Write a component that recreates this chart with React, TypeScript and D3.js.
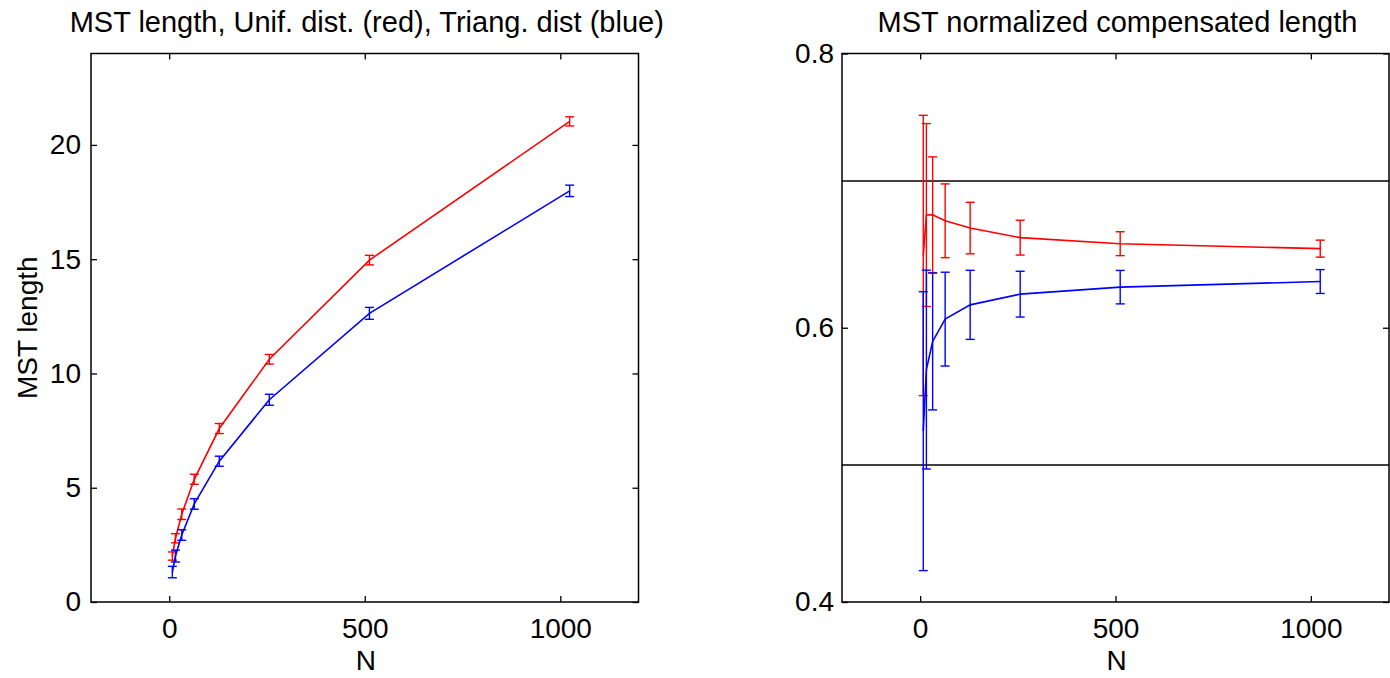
import { useEffect, useRef } from 'react';
import * as d3 from 'd3';

// sample sizes
const N = [8, 16, 32, 64, 128, 256, 512, 1024];

// left panel: MST length
const unifLength = [2.01, 2.79, 3.84, 5.37, 7.59, 10.62, 14.96, 21.03];
const unifLengthErr = [0.18, 0.2, 0.23, 0.22, 0.22, 0.21, 0.21, 0.2];
const triLength = [1.31, 2.01, 2.93, 4.29, 6.16, 8.85, 12.63, 17.99];
const triLengthErr = [0.25, 0.26, 0.23, 0.23, 0.22, 0.24, 0.26, 0.25];

// right panel: normalized compensated length
const unifNorm = [0.6527, 0.6822, 0.6824, 0.678, 0.6727, 0.6657, 0.6613, 0.6577];
const unifNormErr = [0.1022, 0.0667, 0.0422, 0.0269, 0.0188, 0.0127, 0.0087, 0.0062];
const triNorm = [0.5246, 0.5695, 0.59, 0.6063, 0.6167, 0.6245, 0.6296, 0.6337];
const triNormErr = [0.1017, 0.0725, 0.0499, 0.0342, 0.0252, 0.0167, 0.0122, 0.0087];
const refLevels = [0.7071, 0.5];

const xTicks = [0, 500, 1000];
const leftYTicks = [0, 5, 10, 15, 20];
const rightYTicks = [0.4, 0.6, 0.8];

const FONT = '"Liberation Sans", Arial, Helvetica, sans-serif';
const FS = 28;

const App = () => {
  const svgRef = useRef(null);

  useEffect(() => {
    const svg = d3.select(svgRef.current);
    svg.selectAll('*').remove();

    const top = 53.5;
    const bottom = 602;

    const drawPanel = (opts) => {
      const { left, right, yDomain, yTicks, yFmt, yPad, series, title, ylabel, hlines } = opts;
      const x = d3.scaleLinear().domain([-200, 1200]).range([left, right]);
      const y = d3.scaleLinear().domain(yDomain).range([bottom, top]);
      const g = svg.append('g');

      (hlines || []).forEach((v) => {
        g.append('line')
          .attr('x1', left)
          .attr('x2', right)
          .attr('y1', y(v))
          .attr('y2', y(v))
          .attr('stroke', '#000')
          .attr('stroke-width', 1.5);
      });

      const styleAxis = (a, labels) => {
        a.select('.domain').remove();
        a.selectAll('line').attr('stroke', '#000').attr('stroke-width', 1.3);
        a.selectAll('text')
          .attr('font-family', FONT)
          .attr('font-size', FS)
          .attr('fill', '#000');
        if (!labels) a.selectAll('text').remove();
      };

      g.append('g')
        .attr('transform', `translate(0,${bottom})`)
        .call(d3.axisBottom(x).tickValues(xTicks).tickFormat(d3.format('d')).tickSize(-6).tickPadding(16))
        .call((a) => styleAxis(a, true));
      g.append('g')
        .attr('transform', `translate(0,${top})`)
        .call(d3.axisTop(x).tickValues(xTicks).tickSize(-6))
        .call((a) => styleAxis(a, false));
      g.append('g')
        .attr('transform', `translate(${left},0)`)
        .call(d3.axisLeft(y).tickValues(yTicks).tickFormat(yFmt).tickSize(-6).tickPadding(yPad))
        .call((a) => styleAxis(a, true));
      g.append('g')
        .attr('transform', `translate(${right},0)`)
        .call(d3.axisRight(y).tickValues(yTicks).tickSize(-6))
        .call((a) => styleAxis(a, false));

      // box
      g.append('rect')
        .attr('x', left)
        .attr('y', top)
        .attr('width', right - left)
        .attr('height', bottom - top)
        .attr('fill', 'none')
        .attr('stroke', '#000')
        .attr('stroke-width', 1.5);

      const line = d3
        .line()
        .x((d) => x(d[0]))
        .y((d) => y(d[1]));

      series.forEach(({ values, errs, color }) => {
        const pts = N.map((n, i) => [n, values[i], errs[i]]);
        g.append('path')
          .datum(pts)
          .attr('d', line)
          .attr('fill', 'none')
          .attr('stroke', color)
          .attr('stroke-width', 1.6);

        const cap = 4.5;
        const eb = g.append('g').attr('stroke', color).attr('stroke-width', 1.4);
        pts.forEach(([n, v, e]) => {
          const cx = x(n);
          eb.append('line').attr('x1', cx).attr('x2', cx).attr('y1', y(v - e)).attr('y2', y(v + e));
          eb.append('line').attr('x1', cx - cap).attr('x2', cx + cap).attr('y1', y(v - e)).attr('y2', y(v - e));
          eb.append('line').attr('x1', cx - cap).attr('x2', cx + cap).attr('y1', y(v + e)).attr('y2', y(v + e));
        });
      });

      g.append('text')
        .attr('x', (left + right) / 2 + 2)
        .attr('y', 32)
        .attr('text-anchor', 'middle')
        .attr('font-family', FONT)
        .attr('font-size', 29)
        .text(title);

      g.append('text')
        .attr('x', (left + right) / 2 + 1)
        .attr('y', 670)
        .attr('text-anchor', 'middle')
        .attr('font-family', FONT)
        .attr('font-size', FS)
        .text('N');

      if (ylabel) {
        g.append('text')
          .attr('transform', `translate(37,${(top + bottom) / 2}) rotate(-90)`)
          .attr('text-anchor', 'middle')
          .attr('font-family', FONT)
          .attr('font-size', FS)
          .text(ylabel);
      }
    };

    drawPanel({
      left: 91,
      right: 638.5,
      yDomain: [0, 24],
      yTicks: leftYTicks,
      yFmt: d3.format('d'),
      yPad: 10,
      title: 'MST length, Unif. dist. (red), Triang. dist (blue)',
      ylabel: 'MST length',
      series: [
        { values: unifLength, errs: unifLengthErr, color: '#ff0000' },
        { values: triLength, errs: triLengthErr, color: '#0000ff' },
      ],
    });

    drawPanel({
      left: 842,
      right: 1389,
      yDomain: [0.4, 0.8],
      yTicks: rightYTicks,
      yFmt: d3.format('.1f'),
      yPad: 8,
      title: 'MST normalized compensated length',
      hlines: refLevels,
      series: [
        { values: unifNorm, errs: unifNormErr, color: '#ff0000' },
        { values: triNorm, errs: triNormErr, color: '#0000ff' },
      ],
    });
  }, []);

  return (
    <svg
      ref={svgRef}
      width={1390}
      height={678}
      style={{ position: 'absolute', left: 0, top: 0, background: '#fff' }}
    ></svg>
  );
};

export default App;
